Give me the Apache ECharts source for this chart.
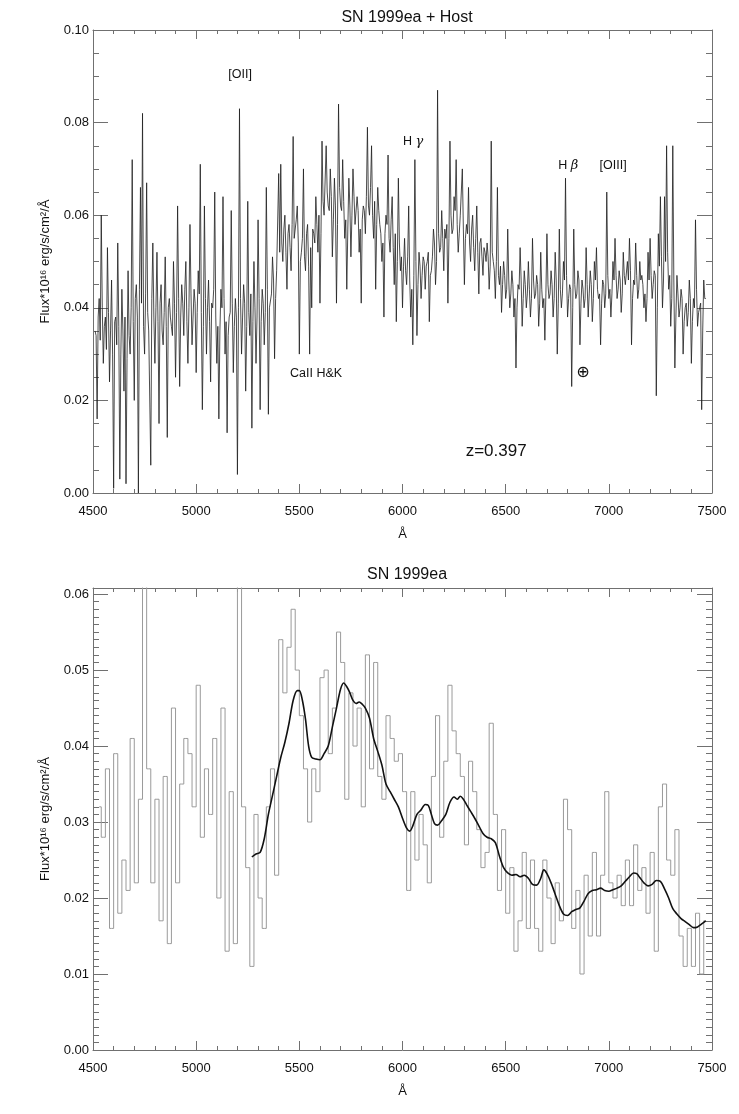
<!DOCTYPE html>
<html>
<head>
<meta charset="utf-8">
<title>SN 1999ea</title>
<script src="https://cdn.jsdelivr.net/npm/echarts@6/dist/echarts.min.js"></script>
<style>
  html, body { margin: 0; padding: 0; background: #fff; }
  #chart { width: 739px; height: 1114px; }
</style>
</head>
<body>
<div id="chart"></div>
<script>

// top panel: SN + host spectrum, one value every 10 A from 4510 A ...
const hostWaveStart = 4510;
const hostWaveStep = 10;
const hostFlux = [
  35, 16, 42, 60, 28, 38, 53, 24, 46, 1,
  38, 54, 3, 44, 22, 2, 48, 30, 72, 20,
  45, 0, 66, 82, 30, 67, 35, 6, 54, 28,
  52, 15, 45, 32, 51, 12, 42, 36, 50, 25,
  62, 23, 45, 34, 50, 28, 58, 32, 44, 26,
  48, 71, 18, 62, 30, 46, 24, 40, 65, 28,
  16, 44, 64, 30, 13, 38, 61, 26, 42, 4,
  83, 30, 45, 22, 63, 34, 14, 50, 28, 59,
  18, 44, 32, 66, 17, 40, 51, 29, 48, 69,
  71, 50, 60, 44, 58, 48, 77, 55, 62, 30,
  52, 70, 48, 58, 30, 40, 56, 64, 52, 41,
  76, 60, 75, 62, 70, 51, 68, 41, 84, 62,
  72, 55, 44, 68, 51, 70, 58, 64, 52, 41,
  62, 56, 79, 60, 75, 55, 44, 66, 58, 50,
  38, 60, 73, 52, 64, 45, 37, 68, 48, 40,
  55, 45, 62, 38, 32, 72, 34, 52, 42, 51,
  44, 50, 37, 48, 57, 45, 87, 52, 61, 48,
  55, 41, 76, 56, 64, 72, 52, 60, 70, 45,
  58, 66, 50, 60, 48, 62, 43, 55, 47, 52,
  54, 44, 76, 50, 42, 66, 45, 39, 50, 42,
  57, 40, 48, 38, 27, 45, 53, 36, 48, 40,
  50, 38, 55, 42, 47, 36, 52, 40, 33, 56,
  42, 48, 38, 52, 30, 57, 40, 50, 68, 38,
  45, 23, 57, 42, 48, 32, 46, 40, 53, 38,
  48, 37, 50, 53, 42, 32, 46, 40, 65, 42,
  38, 50, 55, 42, 48, 39, 52, 45, 50, 55,
  32, 46, 54, 42, 50, 47, 40, 37, 52, 55,
  42, 48, 21, 56, 64, 40, 64, 75, 44, 36,
  75, 27, 47, 38, 44, 30, 40, 36, 46, 28,
  42, 59, 36, 40, 18, 46, 42
];
// ... and the pixels in between (4515, 4525, ...), which sit in the dense band
const hostFluxMid = [
  34, 38, 33, 40, 36, 31, 39, 35, 30, 37,
  32, 36, 30, 35, 38, 29, 34, 40, 37, 42,
  38, 44, 41, 36, 43, 39, 35, 42, 38, 40,
  37, 41, 35, 39, 36, 40, 38, 34, 41, 39,
  42, 38, 41, 44, 37, 40, 43, 38, 41, 39,
  43, 39, 36, 42, 40, 37, 41, 44, 38, 36,
  35, 40, 42, 37, 34, 39, 41, 36, 38, 40,
  42, 38, 41, 36, 39, 43, 37, 40, 38, 42,
  37, 41, 39, 44, 40, 43, 46, 42, 48, 52,
  54, 57, 52, 56, 53, 58, 55, 59, 54, 50,
  55, 51, 56, 49, 53, 57, 54, 58, 60, 56,
  63, 60, 65, 61, 64, 59, 62, 58, 66, 61,
  63, 59, 57, 62, 60, 64, 58, 61, 57, 59,
  61, 64, 62, 66, 60, 63, 58, 61, 56, 54,
  56, 58, 55, 59, 53, 56, 50, 54, 51, 49,
  48, 51, 46, 44, 47, 50, 45, 49, 47, 50,
  49, 52, 47, 51, 54, 50, 56, 53, 55, 57,
  58, 55, 60, 57, 61, 58, 56, 60, 57, 55,
  56, 54, 57, 53, 55, 52, 54, 51, 53, 50,
  51, 49, 52, 48, 50, 47, 49, 45, 47, 44,
  46, 43, 45, 42, 40, 44, 46, 42, 45, 43,
  44, 42, 46, 43, 45, 41, 44, 42, 43, 45,
  43, 45, 42, 46, 41, 44, 43, 46, 47, 42,
  44, 40, 45, 43, 46, 41, 44, 42, 45, 43,
  45, 42, 46, 44, 43, 41, 45, 43, 47, 44,
  43, 46, 47, 44, 46, 43, 47, 45, 46, 48,
  42, 45, 47, 44, 46, 45, 43, 42, 46, 47,
  45, 47, 40, 49, 51, 46, 50, 52, 47, 42,
  46, 38, 43, 40, 42, 37, 41, 39, 42, 37,
  40, 44, 39, 41, 35, 42
];

// bottom panel: host-subtracted SN, 20 A bins, centres from 4530 A
const binStart = 4530;
const binWidth = 20;
const snFlux = [
  32, 28, 37, 16, 39, 18, 25, 21, 41, 22,
  33, 65, 37, 22, 33, 17, 36, 14, 45, 22,
  35, 41, 39, 32, 48, 28, 37, 31, 41, 20,
  45, 13, 34, 14, 65, 32, 24, 11, 31, 20,
  16, 32, 37, 23, 54, 47, 53, 58, 50, 44,
  37, 30, 37, 34, 49, 50, 39, 45, 55, 51,
  33, 47, 40, 45, 32, 52, 37, 51, 36, 33,
  44, 41, 38, 39, 34, 21, 34, 25, 31, 27,
  22, 36, 44, 28, 38, 48, 42, 39, 36, 27,
  38, 34, 29, 24, 26, 43, 31, 21, 29, 18,
  24, 13, 17, 26, 16, 25, 16, 13, 25, 20,
  14, 22, 17, 33, 29, 16, 21, 10, 23, 15,
  26, 15, 23, 34, 22, 20, 23, 19, 25, 19,
  27, 21, 24, 18, 26, 13, 32, 35, 25, 23,
  29, 15, 11, 16, 11, 18, 10, 17
];

// smoothed SN spectrum
const smoothWave = [
  5270, 5290, 5310, 5330, 5350, 5370, 5390, 5410, 5430, 5450,
  5470, 5490, 5500, 5515, 5530, 5545, 5560, 5580, 5600, 5620,
  5640, 5660, 5680, 5700, 5715, 5730, 5745, 5760, 5775, 5790,
  5805, 5820, 5840, 5860, 5880, 5900, 5920, 5940, 5960, 5980,
  6000, 6020, 6035, 6050, 6070, 6090, 6110, 6125, 6140, 6155,
  6170, 6190, 6210, 6230, 6250, 6265, 6280, 6295, 6310, 6330,
  6350, 6370, 6390, 6410, 6430, 6450, 6470, 6490, 6510, 6530,
  6550, 6570, 6590, 6610, 6630, 6650, 6670, 6685, 6700, 6720,
  6740, 6760, 6780, 6800, 6820, 6840, 6860, 6880, 6900, 6920,
  6940, 6960, 6980, 7000, 7020, 7040, 7060, 7080, 7100, 7120,
  7135, 7150, 7170, 7190, 7210, 7230, 7250, 7270, 7290, 7310,
  7330, 7350, 7370, 7390, 7410, 7430, 7450, 7470
];
const smoothFlux = [
  25.4, 25.8, 26, 27.8, 31, 33.5, 36, 38.5, 40.5, 43,
  46, 47.3, 47.3, 46, 43.5, 40, 38.5, 38.3, 38.2, 39,
  40, 42.5, 45, 47.5, 48.3, 47.8, 47, 46, 45.6, 45.8,
  45.5, 45, 43.7, 41, 39.3, 37.5, 35, 34, 33, 32,
  30.5, 29.2, 28.8, 29.5, 31, 31.6, 32.3, 32.2, 31, 29.8,
  29.6, 30.2, 31, 32.6, 33.3, 33, 33.4, 33, 32.3, 31.4,
  30.5, 29.5, 28.5, 28, 27.8, 27.3, 25.5, 24, 23.3, 23,
  23.1, 22.8, 23, 22.6, 21.8, 21.7, 22.6, 23.7, 23.2, 22,
  20.5, 19, 17.9, 17.7, 18.2, 18.5, 18.7, 19.6, 20.6, 21,
  21.1, 21.3, 21, 20.9, 21.1, 21.3, 21.6, 22.2, 22.8, 23.3,
  23.2, 22.7, 22, 21.6, 21.8, 22.3, 22.2, 21.2, 20, 18.6,
  17.9, 17.3, 16.9, 16.5, 16.1, 16.2, 16.6, 17
];

const xTicks = [4500, 7500, 500];
const yTop = [0, 0.1, 0.02];
const yBottom = [0, 0.0608, 0.01];

// line identifications in the top panel (wavelength, flux)
const notes = [
  { text: '[OII]', at: [5213, 0.0903] },
  { text: 'H {g|γ}', at: [6051, 0.0758] },
  { text: 'H {g|β}', at: [6803, 0.0708] },
  { text: '[OIII]', at: [7021, 0.0708] },
  { text: 'CaII H&K', at: [5581, 0.0259] },
  { text: '{o|⊕}', at: [6875, 0.0259] },
  { text: '{z|z=0.397}', at: [6454, 0.0091] }
];

const font = 'Liberation Sans, Arial, Helvetica, sans-serif';
const axisGray = '#707070';
const yName = 'Flux*10¹⁶ erg/s/cm²/Å';

const hostData = [];
hostFlux.forEach((v, i) => {
  const w = hostWaveStart + i * hostWaveStep;
  hostData.push([w, v / 1000]);
  if (i < hostFluxMid.length) {
    hostData.push([w + hostWaveStep / 2, hostFluxMid[i] / 1000]);
  }
});
const snData = snFlux.map((v, i) => [binStart + i * binWidth, v / 1000]);
const smoothData = smoothWave.map((w, i) => [w, smoothFlux[i] / 1000]);

function xAxisPair(gridIndex) {
  const base = {
    type: 'value',
    gridIndex: gridIndex,
    min: xTicks[0],
    max: xTicks[1],
    interval: xTicks[2],
    axisLine: { show: true, onZero: false, lineStyle: { color: axisGray, width: 1 } },
    axisTick: { show: true, inside: true, length: 9, lineStyle: { color: axisGray } },
    minorTick: { show: true, splitNumber: 5, length: 4, lineStyle: { color: axisGray } },
    splitLine: { show: false }
  };
  return [
    Object.assign({}, base, {
      position: 'bottom',
      axisLabel: { color: '#111', fontSize: 13, margin: 12, fontFamily: font, formatter: v => String(v) },
      name: 'Å',
      nameLocation: 'middle',
      nameGap: 35,
      nameTextStyle: { color: '#111', fontSize: 13, fontFamily: font }
    }),
    Object.assign({}, base, { position: 'top', axisLabel: { show: false } })
  ];
}

function yAxisPair(gridIndex, range, minorSplit, showMax) {
  const base = {
    type: 'value',
    gridIndex: gridIndex,
    min: range[0],
    max: range[1],
    interval: range[2],
    axisLine: { show: true, onZero: false, lineStyle: { color: axisGray, width: 1 } },
    axisTick: { show: true, inside: true, length: 15, lineStyle: { color: axisGray } },
    minorTick: { show: true, splitNumber: minorSplit, length: 6, lineStyle: { color: axisGray } },
    splitLine: { show: false }
  };
  return [
    Object.assign({}, base, {
      position: 'left',
      axisLabel: {
        color: '#111', fontSize: 13, margin: 4, fontFamily: font,
        showMaxLabel: showMax,
        formatter: v => v.toFixed(2)
      },
      name: yName,
      nameLocation: 'middle',
      nameGap: 41,
      nameTextStyle: { color: '#111', fontSize: 13, fontFamily: font }
    }),
    Object.assign({}, base, { position: 'right', axisLabel: { show: false } })
  ];
}

const chart = echarts.init(document.getElementById('chart'), null, { renderer: 'canvas' });

chart.setOption({
  animation: false,
  backgroundColor: '#fff',
  textStyle: { fontFamily: font },
  title: [
    {
      text: 'SN 1999ea + Host', left: 402, top: 5, textAlign: 'center',
      textStyle: { color: '#111', fontSize: 16, fontWeight: 'normal', fontFamily: font }
    },
    {
      text: 'SN 1999ea', left: 402, top: 562, textAlign: 'center',
      textStyle: { color: '#111', fontSize: 16, fontWeight: 'normal', fontFamily: font }
    }
  ],
  grid: [
    { left: 93, right: 27, top: 30, height: 463 },
    { left: 93, right: 27, top: 588, height: 462 }
  ],
  xAxis: xAxisPair(0).concat(xAxisPair(1)),
  yAxis: yAxisPair(0, yTop, 4, true).concat(yAxisPair(1, yBottom, 10, false)),
  series: [
    {
      name: 'SN 1999ea + Host',
      type: 'line',
      xAxisIndex: 0,
      yAxisIndex: 0,
      data: hostData,
      showSymbol: false,
      clip: true,
      lineStyle: { color: '#1e1e1e', width: 0.8 },
      markPoint: {
        symbol: 'circle',
        symbolSize: 0,
        silent: true,
        label: {
          show: true,
          color: '#111',
          fontSize: 12.5,
          fontFamily: font,
          rich: {
            g: { fontSize: 13, fontStyle: 'italic', fontFamily: 'DejaVu Serif, serif', color: '#111' },
            o: { fontSize: 16, fontFamily: 'DejaVu Sans, sans-serif', color: '#111' },
            z: { fontSize: 17, fontFamily: font, color: '#111' }
          }
        },
        data: notes.map(n => ({ coord: n.at, value: 0, label: { formatter: n.text } }))
      }
    },
    {
      name: 'SN 1999ea',
      type: 'line',
      step: 'middle',
      xAxisIndex: 2,
      yAxisIndex: 2,
      data: snData,
      showSymbol: false,
      clip: true,
      lineStyle: { color: '#9a9a9a', width: 1 }
    },
    {
      name: 'smoothed',
      type: 'line',
      xAxisIndex: 2,
      yAxisIndex: 2,
      data: smoothData,
      showSymbol: false,
      smooth: 0.3,
      clip: true,
      lineStyle: { color: '#111', width: 1.6 }
    }
  ]
});
</script>
</body>
</html>
